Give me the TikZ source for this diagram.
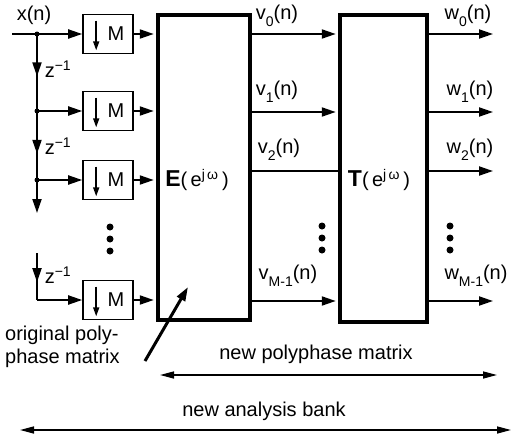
\documentclass[tikz,border=0pt]{standalone}
\usepackage{fontspec}
\setmainfont{Liberation Sans}
\usetikzlibrary{arrows.meta,decorations.markings,calc}

\newcommand{\sigsub}[2]{#1\raisebox{-0.7ex}{\fontsize{14}{14}\selectfont #2}(n)}
\newcommand{\zinv}{z\textsuperscript{−1}}

\begin{document}
\begin{tikzpicture}[
    x=1pt, y=-1pt,
    font=\fontsize{20}{23}\selectfont,
    >={Triangle[length=14pt,width=9pt]},
    sig/.style={line width=2pt},
    sigarr/.style={sig, ->},
    mbox/.style={draw, line width=1.6pt, minimum width=50pt, minimum height=39pt, inner sep=0pt},
    matbox/.style={draw, line width=4.5pt, inner sep=0pt},
    tap/.style={circle, fill, inner sep=0pt, minimum size=5pt},
    bigdot/.style={circle, fill, inner sep=0pt, minimum size=7pt},
    midarr/.style={postaction={decorate}, decoration={markings, mark=at position #1 with {\arrow{>}}}},
    span/.style={<->, line width=1.5pt, >={Triangle[length=14pt,width=7pt]}},
    lab/.style={inner sep=1pt}
]
\useasboundingbox (0,0) rectangle (515,439);

% Input and delay chain
\coordinate (xin) at (12,34);
\coordinate (t0) at (37,34);
\coordinate (t1) at (37,111);
\coordinate (t2) at (37,180);
\coordinate (t3) at (37,300);
\coordinate (d2) at (37,213);
\coordinate (d3) at (37,253);
\node[lab] (xlab) at (34,15) {x(n)};

% Downsamplers
\foreach \i/\y in {0/34,1/111,2/180,3/300} {
  \node[mbox] (m\i) at (108,\y) {\hspace*{16pt}M};
  \draw[line width=1.6pt, -{Triangle[length=9pt,width=6pt]}]
    ([xshift=14pt,yshift=-7pt]m\i.north west) -- ([xshift=14pt,yshift=4pt]m\i.south west);
}

% Polyphase matrices
\node[matbox, minimum width=92pt, minimum height=305pt] (E) at (204,167.5) {};
\node[matbox, minimum width=87pt, minimum height=307pt] (T) at (383.5,168.5) {};
\node[lab] (elab) at (197,180) {{\fontsize{23}{23}\bfseries E}(\,e\textsuperscript{j\,ω}\,)};
\node[lab] (tlab) at (379,180) {{\fontsize{23}{23}\bfseries T}(\,e\textsuperscript{j\,ω}\,)};

% Delay arrows
\draw[sig, midarr=0.55] (t0) -- (t1);
\draw[sig, midarr=0.62] (t1) -- (t2);
\draw[sigarr] (t2) -- (d2);
\draw[sig, midarr=0.62] (d3) -- (t3);
\node[lab] (z1) at (58,69) {\zinv};
\node[lab] (z2) at (58,146) {\zinv};
\node[lab] (z3) at (58,275) {\zinv};
\foreach \t in {t0,t1,t2} \node[tap] at (\t) {};

% Branches into the downsamplers
\draw[sigarr] (xin) -- (m0);
\draw[sigarr] (t1) -- (m1);
\draw[sigarr] (t2) -- (m2);
\draw[sigarr] (t3) -- (m3);
\foreach \i in {0,...,3}
  \draw[sigarr, shorten >=2pt] (m\i.east) -- (m\i.east -| E.west);

% Between the matrices and outputs
\coordinate (wend) at (493,0);
\foreach \i/\y in {0/34,1/112,2/171,3/301}
  \coordinate (o\i) at (E.east |- 0,\y);
\foreach \i in {0,1,3}
  \draw[sigarr, shorten >=2pt] (o\i) -- (o\i -| T.west);
\draw[sig] (o2) -- (o2 -| T.west);
\foreach \i in {0,...,3}
  \draw[sigarr] (o\i -| T.east) -- (o\i -| wend);

\node[lab] (v0) at (277,16) {\sigsub{v}{0}};
\node[lab] (v1) at (277,92) {\sigsub{v}{1}};
\node[lab] (v2) at (279,150) {\sigsub{v}{2}};
\node[lab] (v3) at (288,276) {\sigsub{v}{M-1}};
\node[lab] (w0) at (468,16) {\sigsub{w}{0}};
\node[lab] (w1) at (470,92) {\sigsub{w}{1}};
\node[lab] (w2) at (470,150) {\sigsub{w}{2}};
\node[lab] (w3) at (476,276) {\sigsub{w}{M-1}};

% Vertical dots
\foreach \x/\yo in {110/0,322/-1,450/-1}
  \foreach \y in {227,239,251}
    \node[bigdot] at (\x,\y+\yo) {};

% Annotations
\node[lab, align=left, anchor=west] (orig) at (4,347) {original poly-\\phase matrix};
\coordinate (ptail) at (145,361);
\draw[line width=3pt, ->] (ptail) -- (188,287);

\node[lab] (pm) at (316,354) {new polyphase matrix};
\coordinate (pmL) at (160,375);
\coordinate (pmR) at (497,375);
\draw[span] (pmL) -- (pmR);

\node[lab] (ab) at (264,411) {new analysis bank};
\coordinate (abL) at (20,430);
\coordinate (abR) at (511,430);
\draw[span] (abL) -- (abR);
\end{tikzpicture}
\end{document}
